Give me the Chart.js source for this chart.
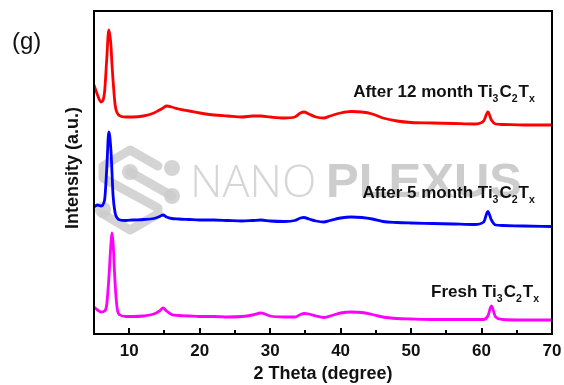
<!DOCTYPE html>
<html>
<head>
<meta charset="utf-8">
<script src="https://cdn.jsdelivr.net/npm/chart.js@4/dist/chart.umd.min.js"></script>
<style>
  html, body { margin: 0; padding: 0; background: #ffffff; }
  #wrap { width: 564px; height: 385px; }
</style>
</head>
<body>
<div id="wrap"><canvas id="c" width="564" height="385"></canvas></div>
<script>
// ---- data ----
const twoTheta = [5, 5.5, 6, 6.5, 6.8, 7.1, 7.4, 7.55, 7.7, 8.0, 8.3, 8.7, 9.5, 10.5, 12, 13.5, 14.3, 14.8, 15.3, 16, 17, 18.5, 20, 22, 24, 26, 27.5, 28.7, 30, 32, 33.5, 34.3, 34.8, 35.5, 36.5, 37.6, 38.5, 40, 41.5, 43, 44.5, 46, 48, 50, 53, 56, 59, 60.3, 60.9, 61.4, 62, 63, 66, 70];
const after12Month = [249, 239, 232, 242, 274, 304, 289, 270, 254, 229, 221, 218, 217, 217, 218, 221, 224, 226, 228, 227, 225, 223, 221, 219, 218, 217, 218, 218, 217, 216, 217, 221, 222, 220, 217, 216, 218, 221, 222.5, 222, 220, 216, 213, 211.5, 211, 210.5, 210, 213, 222, 214, 210, 209.5, 209, 209];
const after5Month = [127, 129, 128, 134, 164, 202, 184, 162, 139, 121, 116, 114, 113.5, 114, 114.5, 115.5, 117.5, 119, 117, 115.5, 115, 114.5, 114, 114, 113.5, 113, 113.5, 114, 113, 112.5, 113.5, 116, 116.5, 115, 113, 112, 113.5, 116, 117, 116.5, 115, 112.5, 111.5, 111, 110.5, 110, 109.5, 112, 122.5, 114, 109, 108.5, 108, 107.5];
const freshSample = [27, 24, 22, 23, 29, 55, 90, 101, 92, 50, 25, 19, 17.5, 17.5, 18, 20, 23, 26, 23, 19.5, 18.5, 18, 17.5, 17.5, 17, 17.5, 19, 21, 18, 17, 17, 19.5, 20.5, 20, 18, 16.5, 18, 21, 22, 21.5, 19.5, 17, 15.5, 15, 14.5, 14.5, 14.5, 14.5, 18, 28, 17, 14.5, 14, 14];
const majorTicks = [10, 20, 30, 40, 50, 60, 70];
const minorTicks = [15, 25, 35, 45, 55, 65];
const seriesNames = ["After 12 month", "After 5 month", "Fresh"];

// label parts: [text, isSubscript]
function formulaParts(prefix) {
  return [[prefix + " Ti", 0], ["3", 1], ["C", 0], ["2", 1], ["T", 0], ["x", 1]];
}

const FONT = "'Liberation Sans', Arial, sans-serif";

const toPts = arr => twoTheta.map((x, i) => ({ x: x, y: arr[i] }));

const labelPlugin = {
  id: 'extras',
  beforeDatasetsDraw(chart) {
    const ctx = chart.ctx;
    ctx.save();
    // watermark logo
    ctx.strokeStyle = 'rgba(205,205,205,0.85)';
    ctx.fillStyle = 'rgba(205,205,205,0.85)';
    ctx.lineWidth = 9;
    ctx.lineJoin = 'round';
    ctx.lineCap = 'round';
    ctx.beginPath();
    ctx.moveTo(158, 166); ctx.lineTo(130, 150); ctx.lineTo(103, 166); ctx.lineTo(103, 178);
    ctx.lineTo(158, 208); ctx.lineTo(158, 214); ctx.lineTo(130, 230); ctx.lineTo(103, 214);
    ctx.stroke();
    ctx.beginPath();
    ctx.moveTo(130, 172); ctx.lineTo(172, 196);
    ctx.stroke();
    [[172, 168], [130, 172], [172, 196], [103, 210]].forEach(p => {
      ctx.beginPath(); ctx.arc(p[0], p[1], 8, 0, Math.PI * 2); ctx.fill();
    });
    // watermark text
    ctx.textBaseline = 'alphabetic';
    ctx.textAlign = 'left';
    ctx.fillStyle = 'rgba(210,210,210,0.9)';
    ctx.font = "300 45px 'Open Sans', sans-serif";
    ctx.fillText('NANO', 190, 197, 130);
    ctx.fillStyle = 'rgba(200,200,200,0.9)';
    ctx.font = "bold 49px " + FONT;
    ctx.fillText('PLEXUS', 326, 197, 198);
    ctx.restore();
  },
  afterDatasetsDraw(chart) {
    const ctx = chart.ctx;
    const ca = chart.chartArea;
    const xs = chart.scales.x, ys = chart.scales.y;
    ctx.save();
    // frame
    ctx.strokeStyle = '#000';
    ctx.lineWidth = 2;
    ctx.strokeRect(ca.left, ca.top, ca.right - ca.left, ca.bottom - ca.top);
    // inward ticks
    majorTicks.forEach(v => {
      const px = Math.round(xs.getPixelForValue(v));
      ctx.beginPath(); ctx.moveTo(px, ca.bottom); ctx.lineTo(px, ca.bottom - 6); ctx.stroke();
    });
    minorTicks.forEach(v => {
      const px = Math.round(xs.getPixelForValue(v));
      ctx.beginPath(); ctx.moveTo(px, ca.bottom); ctx.lineTo(px, ca.bottom - 4); ctx.stroke();
    });
    // series labels (right-aligned at given data position)
    const anchors = [[67.7, 237], [67.7, 136], [68.3, 37]];
    ctx.fillStyle = '#111';
    ctx.textBaseline = 'alphabetic';
    seriesNames.forEach((name, i) => {
      const parts = formulaParts(name);
      const big = "bold 17px " + FONT, small = "bold 10.5px " + FONT;
      let w = 0;
      parts.forEach(p => { ctx.font = p[1] ? small : big; w += ctx.measureText(p[0]).width + (p[1] ? 1 : 0); });
      let x = xs.getPixelForValue(anchors[i][0]) - w;
      const y = ys.getPixelForValue(anchors[i][1]);
      parts.forEach(p => {
        ctx.font = p[1] ? small : big;
        ctx.fillText(p[0], x, y + (p[1] ? 5 : 0));
        x += ctx.measureText(p[0]).width + (p[1] ? 1 : 0);
      });
    });
    // y title
    ctx.save();
    ctx.translate(73, 168);
    ctx.rotate(-Math.PI / 2);
    ctx.font = "bold 18px " + FONT;
    ctx.textAlign = 'center';
    ctx.textBaseline = 'middle';
    ctx.fillStyle = '#111';
    ctx.fillText('Intensity (a.u.)', 0, 0);
    ctx.restore();
    // panel letter
    ctx.font = "24px 'Liberation Sans', Arial, sans-serif";
    ctx.fillStyle = '#111';
    ctx.textAlign = 'left';
    ctx.textBaseline = 'middle';
    ctx.fillText('(g)', 12, 42);
    ctx.restore();
  }
};

new Chart(document.getElementById('c'), {
  type: 'line',
  data: {
    datasets: [
      { label: seriesNames[0], data: toPts(after12Month), borderColor: '#ff0000' },
      { label: seriesNames[1], data: toPts(after5Month), borderColor: '#0000ff' },
      { label: seriesNames[2], data: toPts(freshSample), borderColor: '#ff00ff' }
    ].map(d => Object.assign(d, { borderWidth: 2.8, pointRadius: 0, fill: false, cubicInterpolationMode: 'monotone' }))
  },
  options: {
    responsive: false,
    animation: false,
    devicePixelRatio: 1,
    layout: { padding: { left: 0, right: 12, top: 11, bottom: 0 } },
    plugins: { legend: { display: false }, tooltip: { enabled: false } },
    scales: {
      x: {
        type: 'linear', min: 5, max: 70,
        afterBuildTicks: s => { s.ticks = majorTicks.map(v => ({ value: v })); },
        afterFit: s => { s.height = 51; s.paddingRight = 0; s.paddingLeft = 0; },
        grid: { display: false, drawTicks: false },
        border: { display: false },
        ticks: { color: '#111', font: { family: FONT, size: 17, weight: 'bold' }, padding: 7, maxRotation: 0 },
        title: { display: true, text: '2 Theta (degree)', color: '#111', font: { family: FONT, size: 18, weight: 'bold' }, padding: { top: 0, bottom: 0 } }
      },
      y: {
        min: 0, max: 323,
        afterFit: s => { s.width = 94; },
        grid: { display: false, drawTicks: false },
        border: { display: false },
        ticks: { display: false }
      }
    }
  },
  plugins: [labelPlugin]
});
</script>
</body>
</html>
